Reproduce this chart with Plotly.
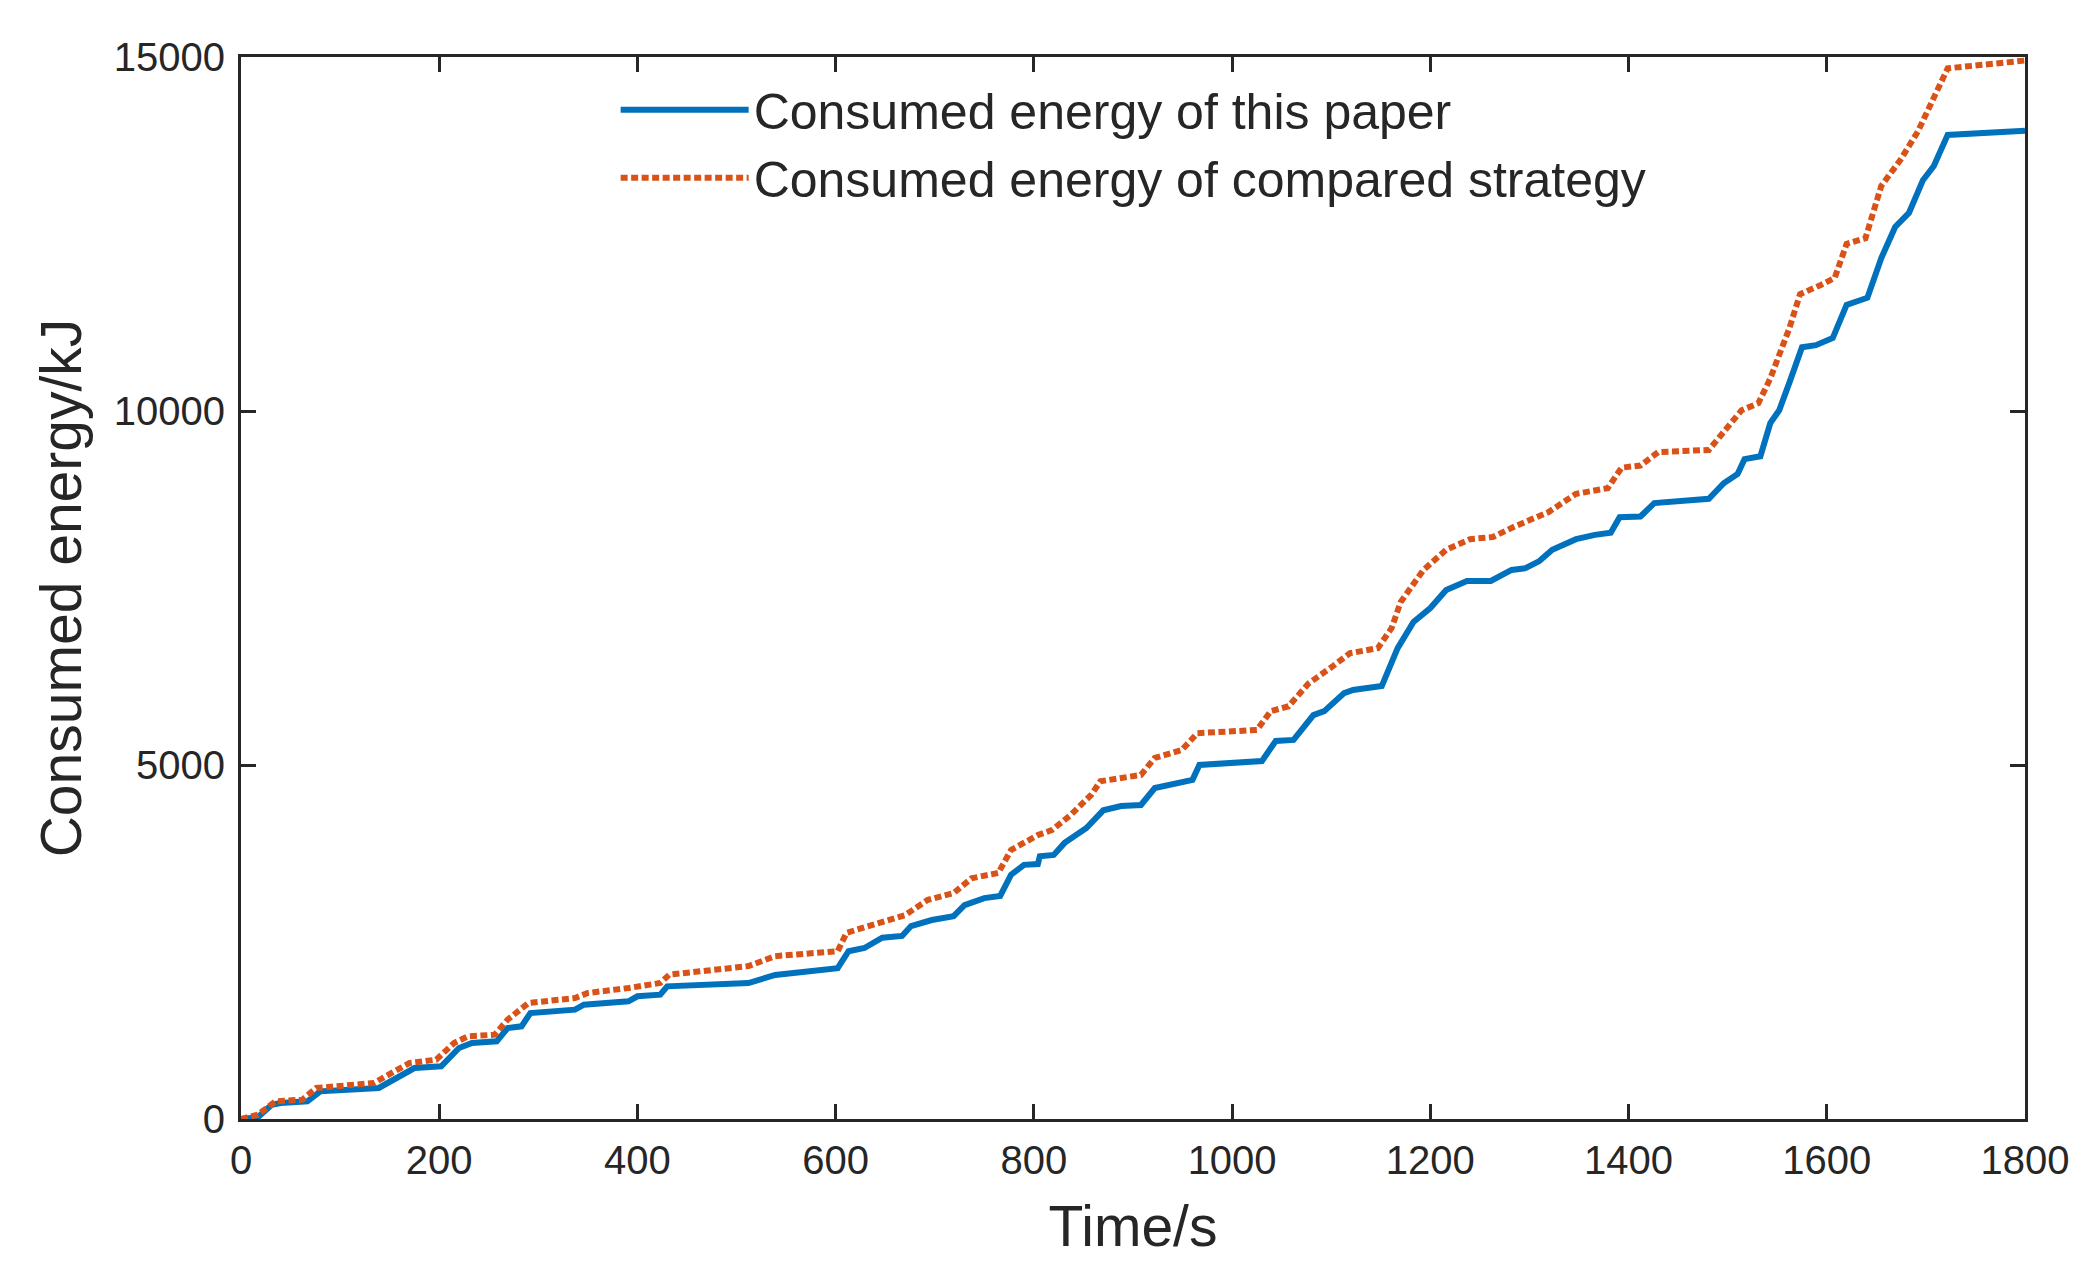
import plotly.graph_objects as go

# Blue: consumed energy of this paper (time in s, energy in kJ)
t_this = [0, 17, 31, 40, 67, 80, 139, 157, 175, 202, 220, 233, 258, 269, 283, 292, 337, 346, 391,
          400, 423, 430, 471, 512, 539, 602, 613, 629, 647, 667, 676, 697, 719, 730, 750, 766, 777,
          790, 804, 806, 820, 831, 853, 870, 888, 908, 922, 944, 960, 967, 1030, 1044, 1062, 1082,
          1093, 1113, 1122, 1151, 1167, 1183, 1200, 1216, 1237, 1261, 1282, 1296, 1310, 1323, 1347,
          1366, 1382, 1391, 1412, 1426, 1481, 1496, 1510, 1517, 1533, 1543, 1552, 1562, 1575, 1589,
          1606, 1620, 1641, 1655, 1669, 1683, 1697, 1708, 1722, 1800]
e_this = [0, 24, 202, 226, 250, 391, 438, 579, 720, 744, 1003, 1073, 1097, 1285, 1309, 1497, 1544, 1615, 1662,
          1733, 1756, 1874, 1895, 1920, 2035, 2130, 2370, 2415, 2560, 2585, 2725, 2810, 2865, 3020, 3120, 3150, 3450,
          3590, 3600, 3710, 3730, 3900, 4110, 4360, 4420, 4435, 4675, 4745, 4790, 5000, 5055, 5340, 5355, 5705,
          5760, 6015, 6060, 6115, 6650, 7020, 7217, 7472, 7600, 7600, 7755, 7780, 7880, 8040, 8190,
          8250, 8280, 8500, 8510, 8700, 8760, 8980, 9110, 9320, 9360, 9830, 10010, 10390, 10900, 10930,
          11030, 11500, 11600, 12160, 12600, 12800, 13260, 13460, 13900, 13960]

# Orange: consumed energy of compared strategy
t_cmp = [0, 17, 35, 62, 76, 134, 152, 170, 197, 215, 229, 256, 269, 290, 337, 350, 391, 423, 432,
         471, 512, 539, 602, 611, 643, 670, 693, 719, 737, 764, 777, 804, 818, 836, 858, 867, 908,
         922, 949, 965, 1025, 1039, 1057, 1077, 1102, 1119, 1147, 1161, 1170, 1193, 1216, 1240,
         1263, 1286, 1319, 1347, 1379, 1393, 1412, 1430, 1481, 1496, 1514, 1531, 1543, 1562, 1573,
         1594, 1608, 1620, 1639, 1655, 1674, 1692, 1708, 1722, 1800]
e_cmp = [0, 61, 250, 273, 438, 508, 650, 791, 838, 1073, 1168, 1191, 1403, 1638, 1709, 1780, 1850, 1921, 2038,
         2100, 2160, 2300, 2370, 2630, 2770, 2880, 3095, 3190, 3400, 3475, 3800, 4010, 4080, 4280, 4580, 4770, 4860,
         5100, 5210, 5450, 5495, 5760, 5830, 6150, 6400, 6580, 6650, 6935, 7300, 7755, 8040, 8190,
         8220, 8375, 8570, 8830, 8910, 9200, 9230, 9420, 9450, 9700, 10010, 10110, 10460, 11160, 11650,
         11780, 11880, 12360, 12440, 13180, 13540, 13950, 14400, 14840, 14950]

x_ticks = [0, 200, 400, 600, 800, 1000, 1200, 1400, 1600, 1800]
y_ticks = [0, 5000, 10000, 15000]

FONT = "Liberation Sans, Arial, sans-serif"
TXT = "#262626"

fig = go.Figure()
fig.add_trace(go.Scatter(x=t_this, y=e_this, mode="lines",
                         name="Consumed energy of this paper",
                         line=dict(color="#0072BD", width=6)))
fig.add_trace(go.Scatter(x=t_cmp, y=e_cmp, mode="lines",
                         name="Consumed energy of compared strategy",
                         line=dict(color="#D95319", width=6, dash="7px,3.5px")))

axis_common = dict(showgrid=False, zeroline=False, showline=True, linecolor=TXT, linewidth=3,
                   mirror="ticks", ticks="inside", ticklen=15, tickwidth=2.5, tickcolor=TXT,
                   tickfont=dict(family=FONT, size=40, color=TXT))
fig.update_xaxes(range=[0, 1800], tickvals=x_ticks, ticktext=[str(v) for v in x_ticks],
                 ticklabelstandoff=4,
                 title=dict(text="Time/s", font=dict(family=FONT, size=57, color=TXT), standoff=26),
                 **axis_common)
fig.update_yaxes(range=[0, 15000], tickvals=y_ticks, ticktext=[str(v) for v in y_ticks],
                 ticklabelstandoff=5,
                 title=dict(text="Consumed energy/kJ", font=dict(family=FONT, size=57, color=TXT), standoff=14),
                 **axis_common)

fig.update_layout(
    width=2079, height=1262,
    margin=dict(l=233, r=62, t=49, b=151),
    plot_bgcolor="white", paper_bgcolor="white",
    legend=dict(x=0.210, y=0.987, xanchor="left", yanchor="top",
                font=dict(family=FONT, size=50, color=TXT),
                bgcolor="rgba(0,0,0,0)", borderwidth=0, itemwidth=128,
                tracegroupgap=0),
)

fig.write_html("out.html")
